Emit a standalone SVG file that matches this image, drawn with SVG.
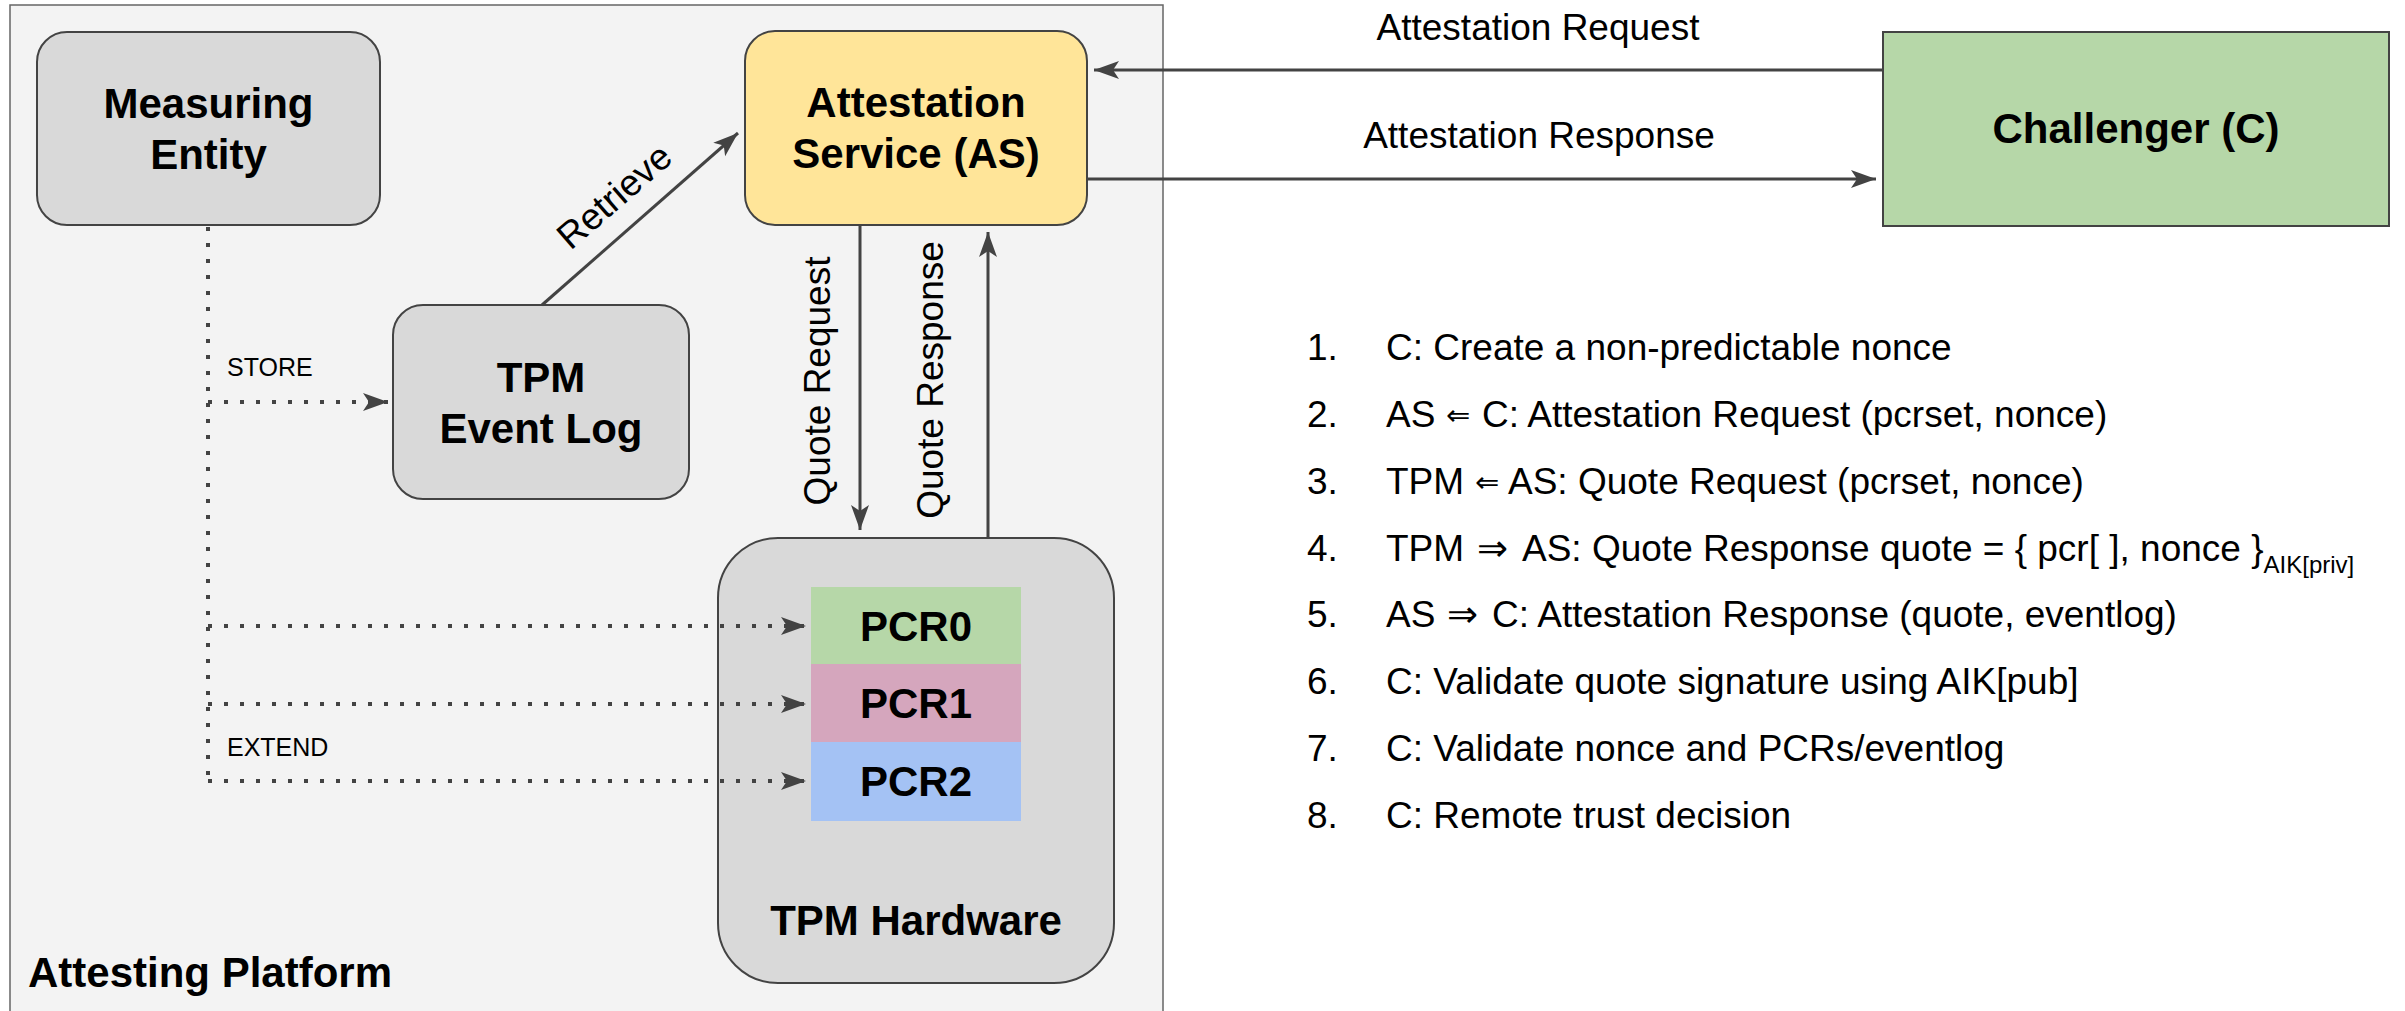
<svg xmlns="http://www.w3.org/2000/svg" width="2405" height="1011" viewBox="0 0 2405 1011">
  <defs>
    <style>
      .box { stroke: #434343; stroke-width: 2; }
      .gray { fill: #d9d9d9; }
      .lbl { font-family: "Liberation Sans", Arial, sans-serif; fill: #000; }
      .bold { font-weight: bold; font-size: 42px; text-anchor: middle; }
      .edge { font-size: 37px; text-anchor: middle; }
      .small { font-size: 25px; }
      .list { font-size: 37px; }
      .sym { font-family: "DejaVu Sans", sans-serif; }
      .line { fill: none; stroke: #434343; stroke-width: 3; }
      .dot { fill: none; stroke: #434343; stroke-width: 4; stroke-dasharray: 4 12; }
    </style>
    <marker id="arrow" viewBox="-26 -10 27 20" refX="0" refY="0" markerWidth="27" markerHeight="20" markerUnits="userSpaceOnUse" orient="auto">
      <path d="M0,0 L-25,-9 L-19,0 L-25,9 Z" fill="#434343"/>
    </marker>
  </defs>

  <rect width="2405" height="1011" fill="#ffffff"/>

  <!-- platform container -->
  <g id="attesting-platform">
    <rect x="10" y="5" width="1153" height="1020" fill="#f3f3f3" stroke="#666666" stroke-width="1.5"/>
    <text class="lbl" x="28" y="987" font-size="42" font-weight="bold">Attesting Platform</text>
  </g>

  <g id="measuring-entity">
    <rect class="box gray" x="37" y="32" width="343" height="193" rx="30" ry="30"/>
    <text class="lbl bold" x="208.5" y="118">Measuring</text>
    <text class="lbl bold" x="208.5" y="169">Entity</text>
  </g>

  <g id="tpm-event-log">
    <rect class="box gray" x="393" y="305" width="296" height="194" rx="30" ry="30"/>
    <text class="lbl bold" x="541" y="392">TPM</text>
    <text class="lbl bold" x="541" y="443">Event Log</text>
  </g>

  <g id="attestation-service">
    <rect class="box" x="745" y="31" width="342" height="194" rx="30" ry="30" fill="#ffe599"/>
    <text class="lbl bold" x="916" y="117">Attestation</text>
    <text class="lbl bold" x="916" y="168">Service (AS)</text>
  </g>

  <g id="tpm-hardware">
    <rect class="box gray" x="718" y="538" width="396" height="445" rx="60" ry="60"/>
    <text class="lbl bold" x="916" y="935">TPM Hardware</text>
  </g>

  <g id="pcr0">
    <rect x="811" y="587" width="210" height="77" fill="#b6d7a8"/>
    <text class="lbl bold" x="916" y="641">PCR0</text>
  </g>
  <g id="pcr1">
    <rect x="811" y="664" width="210" height="78" fill="#d5a6bd"/>
    <text class="lbl bold" x="916" y="718">PCR1</text>
  </g>
  <g id="pcr2">
    <rect x="811" y="742" width="210" height="79" fill="#a4c2f4"/>
    <text class="lbl bold" x="916" y="796">PCR2</text>
  </g>

  <g id="challenger">
    <rect class="box" x="1883" y="32" width="506" height="194" fill="#b6d7a8"/>
    <text class="lbl bold" x="2136" y="143">Challenger (C)</text>
  </g>

  <!-- connectors -->
  <g id="connectors">
    <!-- measurement flow (dotted) -->
    <path class="dot" d="M208,227 V781"/>
    <path class="dot" d="M208,402 H388" marker-end="url(#arrow)"/>
    <path class="dot" d="M208,626 H806" marker-end="url(#arrow)"/>
    <path class="dot" d="M208,704 H806" marker-end="url(#arrow)"/>
    <path class="dot" d="M208,781 H806" marker-end="url(#arrow)"/>
    <text class="lbl small" x="227" y="376">STORE</text>
    <text class="lbl small" x="227" y="756">EXTEND</text>

    <!-- event log retrieval -->
    <path class="line" d="M542,305 L738,133" marker-end="url(#arrow)"/>
    <text class="lbl edge" transform="translate(614,196) rotate(-41)" x="0" y="13">Retrieve</text>

    <!-- quote exchange -->
    <path class="line" d="M860,225 V530" marker-end="url(#arrow)"/>
    <path class="line" d="M988,538 V232" marker-end="url(#arrow)"/>
    <text class="lbl edge" transform="translate(830,381) rotate(-90)" x="0" y="0">Quote Request</text>
    <text class="lbl edge" transform="translate(943,380) rotate(-90)" x="0" y="0">Quote Response</text>

    <!-- attestation exchange -->
    <path class="line" d="M1883,70 H1094" marker-end="url(#arrow)"/>
    <path class="line" d="M1087,179 H1876" marker-end="url(#arrow)"/>
    <text class="lbl edge" x="1538" y="40">Attestation Request</text>
    <text class="lbl edge" x="1539" y="148">Attestation Response</text>
  </g>

  <!-- protocol steps -->
  <g id="steps" class="lbl list">
    <text x="1307" y="360">1.</text>
    <text x="1386" y="360">C: Create a non-predictable nonce</text>

    <text x="1307" y="427">2.</text>
    <text x="1386" y="427">AS<tspan class="sym" x="1446" font-size="29" dy="-2">⇐</tspan><tspan x="1482" dy="2">C: Attestation Request (pcrset, nonce)</tspan></text>

    <text x="1307" y="494">3.</text>
    <text x="1386" y="494">TPM<tspan class="sym" x="1475" font-size="29" dy="-2">⇐</tspan><tspan x="1508" dy="2">AS: Quote Request (pcrset, nonce)</tspan></text>

    <text x="1307" y="561">4.</text>
    <text x="1386" y="561">TPM<tspan class="sym" x="1477">⇒</tspan><tspan x="1522">AS: Quote Response quote = { pcr[ ], nonce }</tspan><tspan font-size="24" dy="12">AIK[priv]</tspan></text>

    <text x="1307" y="627">5.</text>
    <text x="1386" y="627">AS<tspan class="sym" x="1447">⇒</tspan><tspan x="1492">C: Attestation Response (quote, eventlog)</tspan></text>

    <text x="1307" y="694">6.</text>
    <text x="1386" y="694">C: Validate quote signature using AIK[pub]</text>

    <text x="1307" y="761">7.</text>
    <text x="1386" y="761">C: Validate nonce and PCRs/eventlog</text>

    <text x="1307" y="828">8.</text>
    <text x="1386" y="828">C: Remote trust decision</text>
  </g>
</svg>
